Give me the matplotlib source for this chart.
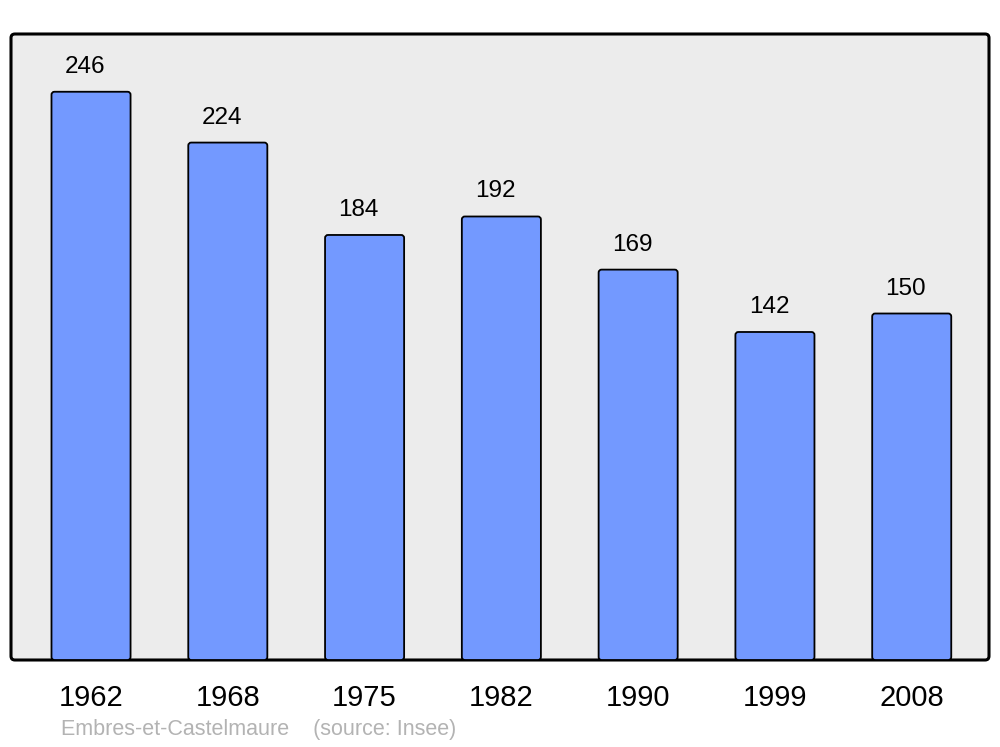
import matplotlib
matplotlib.use("Agg")
import matplotlib.pyplot as plt
from matplotlib.patches import FancyBboxPatch

years = ["1962", "1968", "1975", "1982", "1990", "1999", "2008"]
population = [246, 224, 184, 192, 169, 142, 150]
footer = "Embres-et-Castelmaure    (source: Insee)"

plt.rcParams['font.family'] = ['Liberation Sans', 'DejaVu Sans']

fig = plt.figure(figsize=(10, 7.47), dpi=100)
ax = fig.add_axes([0.011, 87/747, 0.978, 626/747])
ax.set_facecolor('none')
for s in ax.spines.values():
    s.set_visible(False)

frame = FancyBboxPatch((0, 0), 1, 1, boxstyle="round,pad=0,rounding_size=0.004",
                       transform=ax.transAxes, facecolor='#ececec', edgecolor='black',
                       linewidth=2.2, clip_on=False, zorder=0, mutation_aspect=978/626)
ax.add_patch(frame)

ax.set_xlim(-0.585, 6.565)
ax.set_ylim(0, 271)

x = list(range(len(years)))
bars = ax.bar(x, population, width=0.578, color='#7399ff', edgecolor='black',
              linewidth=1.3, zorder=2)
# pixel scale for rounded corners
xpx = 978 / (6.565 + 0.585)
ypx = 626 / 271
for b in bars:
    b.set_visible(False)
    rp = FancyBboxPatch((b.get_x(), b.get_y()), b.get_width(), b.get_height(),
                        boxstyle="round,pad=0,rounding_size=%f" % (3 / xpx),
                        mutation_aspect=xpx / ypx,
                        facecolor='#7399ff', edgecolor='black', linewidth=1.3, zorder=2)
    ax.add_patch(rp)

for xi, v in zip(x, population):
    ax.annotate(str(v), (xi, v), xytext=(-6, 19), textcoords='offset pixels',
                ha='center', va='baseline', fontsize=17.5, color='black')

ax.set_yticks([])
ax.set_xticks(x)
ax.set_xticklabels(years, fontsize=21)
ax.tick_params(axis='x', length=0, pad=17)

fig.text(0.061, 1 - 730/747, footer, fontsize=15.5, color='#b3b3b3', va='center', ha='left')

fig.savefig('out.png', dpi=100)
